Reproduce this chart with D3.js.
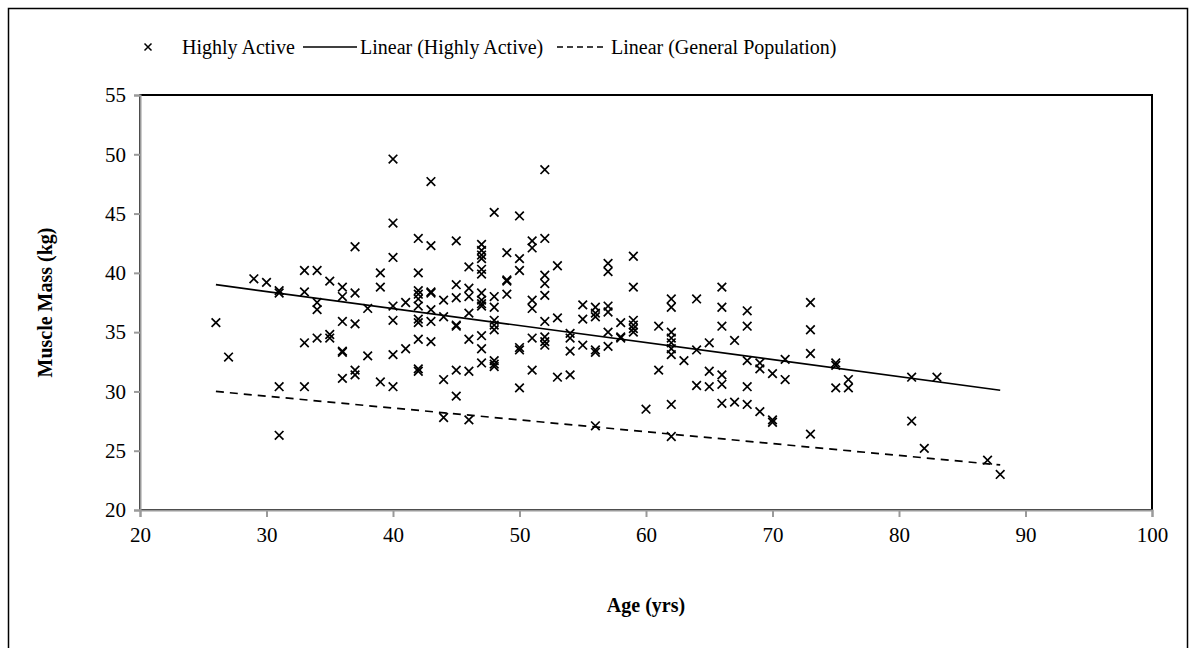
<!DOCTYPE html>
<html lang="en">
<head>
<meta charset="UTF-8">
<title>Muscle Mass vs Age</title>
<script src="https://d3js.org/d3.v7.min.js"></script>
<style>
    body { margin: 0; background: #fff; }
    svg { display: block; font-family: "Liberation Serif", "Times New Roman", serif; }
</style>
</head>
<body>
<svg id="chart" width="1196" height="648"></svg>
<script>
// Highly Active sample, one array per coordinate (age in yrs, muscle mass in kg)
const ages = [
    26, 27, 29, 30,
    31, 31, 31, 31,
    33, 33, 33, 33,
    34, 34, 34, 34,
    35, 35, 35,
    36, 36, 36, 36, 36, 36,
    37, 37, 37, 37, 37,
    38, 38,
    39, 39, 39,
    40, 40, 40, 40, 40, 40, 40,
    41, 41,
    42, 42, 42, 42, 42, 42, 42, 42, 42, 42, 42,
    43, 43, 43, 43, 43, 43, 43,
    44, 44, 44, 44,
    45, 45, 45, 45, 45, 45, 45,
    46, 46, 46, 46, 46, 46, 46,
    47, 47, 47, 47, 47, 47, 47, 47, 47, 47, 47, 47, 47,
    48, 48, 48, 48, 48, 48, 48, 48, 48,
    49, 49, 49, 49,
    50, 50, 50, 50, 50, 50,
    51, 51, 51, 51, 51, 51,
    52, 52, 52, 52, 52, 52, 52, 52, 52,
    53, 53, 53,
    54, 54, 54, 54,
    55, 55, 55,
    56, 56, 56, 56, 56, 56,
    57, 57, 57, 57, 57, 57,
    58, 58, 58,
    59, 59, 59, 59, 59, 59,
    60,
    61, 61,
    62, 62, 62, 62, 62, 62, 62, 62, 62,
    63,
    64, 64, 64,
    65, 65, 65,
    66, 66, 66, 66, 66, 66,
    67, 67,
    68, 68, 68, 68, 68,
    69, 69, 69,
    70, 70, 70,
    71, 71,
    73, 73, 73, 73,
    75, 75, 75,
    76, 76,
    81, 81, 82, 83, 87, 88
];
const muscleMass = [
    35.8, 32.9, 39.5, 39.2,
    38.5, 38.3, 30.4, 26.3,
    40.2, 38.4, 34.1, 30.4,
    40.2, 37.5, 36.9, 34.5,
    39.3, 34.8, 34.5,
    38.8, 38.0, 35.9, 33.4, 33.3, 31.1,
    42.2, 38.3, 35.7, 31.8, 31.4,
    37.0, 33.0,
    40.0, 38.8, 30.8,
    49.6, 44.2, 41.3, 37.2, 36.0, 33.1, 30.4,
    37.5, 33.6,
    42.9, 40.0, 38.5, 38.2, 37.8, 37.2, 36.1, 35.8, 34.4, 31.9, 31.7,
    47.7, 42.3, 38.4, 38.3, 36.9, 35.9, 34.2,
    37.7, 36.3, 31.0, 27.8,
    42.7, 39.0, 37.9, 35.6, 35.5, 31.8, 29.6,
    40.5, 38.7, 38.0, 36.6, 34.4, 31.7, 27.6,
    42.4, 41.9, 41.5, 41.2, 40.3, 39.9, 38.3, 37.7, 37.4, 37.2, 34.7, 33.6, 32.4,
    45.1, 38.0, 37.1, 36.0, 35.6, 35.2, 32.6, 32.3, 32.1,
    41.7, 39.4, 39.3, 38.2,
    44.8, 41.2, 40.2, 33.7, 33.5, 30.3,
    42.7, 42.1, 37.7, 37.0, 34.5, 31.8,
    48.7, 42.9, 39.8, 39.1, 38.1, 35.9, 34.6, 34.2, 33.9,
    40.6, 36.2, 31.2,
    34.9, 34.5, 33.4, 31.4,
    37.3, 36.1, 33.9,
    37.1, 36.6, 36.3, 33.5, 33.3, 27.1,
    40.8, 40.1, 37.2, 36.7, 35.0, 33.8,
    35.8, 34.6, 34.5,
    41.4, 38.8, 36.0, 35.6, 35.3, 35.0,
    28.5,
    35.5, 31.8,
    37.8, 37.1, 35.0, 34.5, 34.1, 33.6, 33.1, 28.9, 26.2,
    32.6,
    37.8, 33.5, 30.5,
    34.1, 31.7, 30.4,
    38.8, 37.1, 35.5, 31.4, 30.6, 29.0,
    34.3, 29.1,
    36.8, 35.5, 32.6, 30.4, 28.9,
    32.4, 31.9, 28.3,
    31.5, 27.6, 27.4,
    32.7, 31.0,
    37.5, 35.2, 33.2, 26.4,
    32.4, 32.2, 30.3,
    31.0, 30.3,
    31.2, 27.5, 25.2, 31.2, 24.2, 23.0
];

// Trend line end points
const trendAges = [26, 88];
const trendHighlyActive = [39.0, 30.1];
const trendGeneral = [30.0, 23.8];

// Axes
const xTicks = [20, 30, 40, 50, 60, 70, 80, 90, 100];
const yTicks = [20, 25, 30, 35, 40, 45, 50, 55];

const legendLabels = ["Highly Active", "Linear (Highly Active)", "Linear (General Population)"];

const svg = d3.select("#chart");
const plot = { left: 140, right: 1152, top: 95, bottom: 510 };
const serif = "'Liberation Serif', 'Times New Roman', serif";

const x = d3.scaleLinear().domain([20, 100]).range([plot.left, plot.right]);
const y = d3.scaleLinear().domain([20, 55]).range([plot.bottom, plot.top]);

// outer chart frame
svg.append("rect")
    .attr("x", 8.5).attr("y", 8.5)
    .attr("width", 1179).attr("height", 660)
    .attr("fill", "none").attr("stroke", "#000").attr("stroke-width", 1.5);

// plot frame (dark top/right)
svg.append("rect")
    .attr("x", plot.left).attr("y", plot.top)
    .attr("width", plot.right - plot.left).attr("height", plot.bottom - plot.top)
    .attr("fill", "none").attr("stroke", "#000").attr("stroke-width", 2);

// Y axis
const yAxis = svg.append("g")
    .attr("transform", `translate(${plot.left},0)`)
    .call(d3.axisLeft(y).tickValues(yTicks).tickSize(6).tickPadding(8));
yAxis.select(".domain").attr("stroke", "#9a9a9a").attr("stroke-width", 2);
yAxis.selectAll(".tick line").attr("stroke", "#9a9a9a").attr("stroke-width", 2);
yAxis.selectAll("text").attr("fill", "#000").style("font-size", "21px")
    .style("font-family", serif);

// X axis
const xAxis = svg.append("g")
    .attr("transform", `translate(0,${plot.bottom})`)
    .call(d3.axisBottom(x).tickValues(xTicks).tickSize(7).tickPadding(10));
xAxis.select(".domain").attr("stroke", "#9a9a9a").attr("stroke-width", 2);
xAxis.selectAll(".tick line").attr("stroke", "#9a9a9a").attr("stroke-width", 2);
xAxis.selectAll("text").attr("fill", "#000").style("font-size", "21px")
    .style("font-family", serif);

// Axis titles
svg.append("text")
    .attr("transform", `translate(47,${(plot.top + plot.bottom) / 2}) rotate(-90)`)
    .attr("text-anchor", "middle")
    .attr("dominant-baseline", "middle")
    .style("font-size", "20px").style("font-weight", "bold")
    .text("Muscle Mass (kg)");

svg.append("text")
    .attr("x", (plot.left + plot.right) / 2)
    .attr("y", 612)
    .attr("text-anchor", "middle")
    .style("font-size", "20px").style("font-weight", "bold")
    .text("Age (yrs)");

// cross marker
function cross(cx, cy, r) {
    return `M${cx - r},${cy - r}L${cx + r},${cy + r}M${cx - r},${cy + r}L${cx + r},${cy - r}`;
}

// Trend lines
const line = d3.line().x(d => x(d[0])).y(d => y(d[1]));
svg.append("path")
    .datum(trendAges.map((a, i) => [a, trendHighlyActive[i]]))
    .attr("d", line)
    .attr("fill", "none").attr("stroke", "#000").attr("stroke-width", 1.7);
svg.append("path")
    .datum(trendAges.map((a, i) => [a, trendGeneral[i]]))
    .attr("d", line)
    .attr("fill", "none").attr("stroke", "#000").attr("stroke-width", 1.7)
    .attr("stroke-dasharray", "8,6");

// Scatter points
svg.append("g")
    .selectAll("path")
    .data(ages.map((a, i) => [a, muscleMass[i]]))
    .join("path")
    .attr("d", d => cross(x(d[0]), y(d[1]), 4.3))
    .attr("stroke", "#000").attr("stroke-width", 1.7).attr("fill", "none");

// Legend
const legendY = 47;
const legend = svg.append("g").style("font-size", "20px");
legend.append("path")
    .attr("d", cross(148, legendY, 3.5))
    .attr("stroke", "#000").attr("stroke-width", 1.5);
legend.append("text").attr("x", 182).attr("y", legendY)
    .attr("dominant-baseline", "central").text(legendLabels[0]);
legend.append("line")
    .attr("x1", 303).attr("x2", 357).attr("y1", legendY).attr("y2", legendY)
    .attr("stroke", "#000").attr("stroke-width", 1.6);
legend.append("text").attr("x", 360).attr("y", legendY)
    .attr("dominant-baseline", "central").text(legendLabels[1]);
legend.append("line")
    .attr("x1", 557).attr("x2", 606).attr("y1", legendY).attr("y2", legendY)
    .attr("stroke", "#000").attr("stroke-width", 1.6)
    .attr("stroke-dasharray", "6,4");
legend.append("text").attr("x", 611).attr("y", legendY)
    .attr("dominant-baseline", "central").text(legendLabels[2]);
</script>
</body>
</html>
